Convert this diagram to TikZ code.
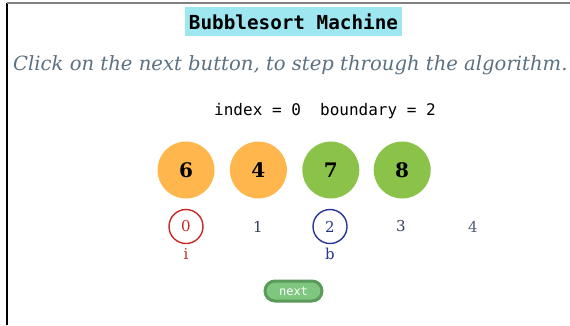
\documentclass[tikz,border=0pt]{standalone}
\usepackage{fontspec}
\setmainfont{DejaVu Serif}
\setmonofont{DejaVu Sans Mono}
\usetikzlibrary{positioning}

\definecolor{titlebg}{HTML}{9EE6F0}
\definecolor{hintgray}{HTML}{5B7080}
\definecolor{lowcol}{HTML}{FFB74D}
\definecolor{donecol}{HTML}{8BC34A}
\definecolor{icol}{HTML}{C62828}
\definecolor{bcol}{HTML}{283593}
\definecolor{idxcol}{HTML}{34405A}
\definecolor{btnfill}{HTML}{7FC77F}
\definecolor{btnedge}{HTML}{5A9A5A}

\begin{document}
\begin{tikzpicture}[x=1pt,y=-1pt,node distance=15pt]
	  \tikzstyle{ball}=[circle,minimum size=57pt,inner sep=0pt,font=\fontsize{20}{24}\selectfont\bfseries]
	  \tikzstyle{idx}=[circle,minimum size=34pt,inner sep=0pt,text=idxcol,font=\fontsize{15}{18}\selectfont]
	  \useasboundingbox (0,0) rectangle (570,325);

	  % frame
	  \draw[black,line width=1.5pt] (7,3) -- (7,325);
	  \draw[gray,line width=2pt] (7,3) -- (570,3);

	  \node[fill=titlebg,inner xsep=4pt,minimum height=29pt,font=\ttfamily\bfseries\fontsize{19.3}{22}\selectfont] (title) at (293.5,21.5) {Bubblesort Machine};
	  \node[anchor=base west,inner sep=0pt,text=hintgray,font=\itshape\fontsize{19.6}{23}\selectfont] (hint) at (13,70.7) {Click on the next button, to step through the algorithm.};
	  \node[font=\ttfamily\fontsize{16}{19}\selectfont] (state) at (325,111) {index = 0\ \ boundary = 2};

	  \node[ball,fill=lowcol] (v0) at (186,170) {6};
	  \node[ball,fill=lowcol] (v1) [right=15pt of v0] {4};
	  \node[ball,fill=donecol] (v2) [right=15pt of v1] {7};
	  \node[ball,fill=donecol] (v3) [right=14pt of v2] {8};

	  \node[idx,draw=icol,line width=1.4pt,text=icol] (i0) at (186,226.5) {0};
	  \node[idx] (i1) at (258,226.5) {1};
	  \node[idx,draw=bcol,line width=1.4pt,text=bcol] (i2) at (330,226.5) {2};
	  \node[idx] (i3) at (401,226.5) {3};
	  \node[idx,text=idxcol!85] (i4) at (473,226.5) {4};

	  \node[text=icol,font=\fontsize{15}{18}\selectfont] (ptri) at (186,254) {i};
	  \node[text=bcol,font=\fontsize{15}{18}\selectfont] (ptrb) at (330,254) {b};

	  \node[rounded corners=10pt,fill=btnfill,draw=btnedge,line width=3pt,minimum width=57pt,minimum height=20pt,text=white,font=\ttfamily\fontsize{12}{14}\selectfont] (next) at (293.5,291) {next};
	\end{tikzpicture}
\end{document}
